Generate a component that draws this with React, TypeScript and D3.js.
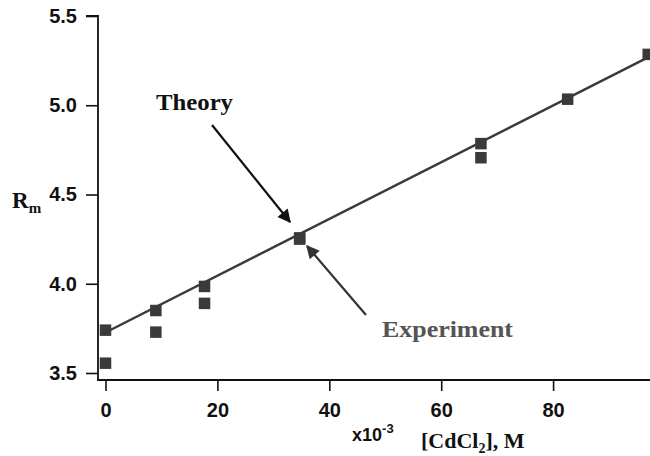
import React, { useEffect, useRef } from 'react';
import * as d3 from 'd3';

// concentration (x10^-3 M)
const theoryX = [0, 9, 17.7, 34.7, 67.1, 82.6, 97];
const theoryY = [3.74, 3.85, 3.985, 4.257, 4.785, 5.034, 5.285];
const expX = [0, 9, 17.7, 34.7, 67.1];
const expY = [3.555, 3.729, 3.89, 4.25, 4.706];
// fitted theory line end points
const fitX = [0, 97.3];
const fitY = [3.727, 5.274];
const xTicks = [0, 20, 40, 60, 80];
const yTicks = [3.5, 4.0, 4.5, 5.0, 5.5];

const W = 650;
const H = 456;

const App: React.FC = () => {
  const svgRef = useRef<SVGSVGElement>(null);

  useEffect(() => {
    if (!svgRef.current) return;
    const svg = d3.select(svgRef.current);
    svg.selectAll('*').remove();

    const x = d3.scaleLinear().domain([0, 100]).range([105.5, 665]);
    const y = d3.scaleLinear().domain([3.5, 5.5]).range([373, 16]);
    const axisX0 = 98;
    const axisY0 = 380;

    const defs = svg.append('defs');
    const mk = (id: string, color: string) =>
      defs.append('marker')
        .attr('id', id)
        .attr('viewBox', '0 0 10 10')
        .attr('refX', 9).attr('refY', 5)
        .attr('markerWidth', 7).attr('markerHeight', 6)
        .attr('markerUnits', 'strokeWidth')
        .attr('orient', 'auto')
        .append('path').attr('d', 'M0,0 L10,5 L0,10 Z').attr('fill', color);
    mk('arrT', '#111');
    mk('arrE', '#333');

    // y axis
    const gy = svg.append('g')
      .attr('transform', `translate(${axisX0},0)`)
      .call(d3.axisLeft(y).tickValues(yTicks).tickSize(12).tickPadding(9).tickFormat(d3.format('.1f')));
    gy.select('.domain').remove();
    gy.selectAll('line').attr('stroke', '#111').attr('stroke-width', 1.6);
    gy.selectAll('text')
      .attr('font-family', 'Liberation Sans, Arial, sans-serif')
      .attr('font-weight', 'bold').attr('font-size', 20).attr('fill', '#111');

    // x axis
    const gx = svg.append('g')
      .attr('transform', `translate(0,${axisY0})`)
      .call(d3.axisBottom(x).tickValues(xTicks).tickSize(11).tickPadding(12).tickFormat(d3.format('d')));
    gx.select('.domain').remove();
    gx.selectAll('line').attr('stroke', '#111').attr('stroke-width', 1.6);
    gx.selectAll('text')
      .attr('font-family', 'Liberation Sans, Arial, sans-serif')
      .attr('font-weight', 'bold').attr('font-size', 20).attr('fill', '#111');

    // axis lines
    svg.append('path')
      .attr('d', `M${axisX0 - 12},${y(5.5)} H${axisX0} V${axisY0} H${W}`)
      .attr('fill', 'none').attr('stroke', '#111').attr('stroke-width', 1.8);

    // theory line
    const line = d3.line<number>().x((_, i) => x(fitX[i])).y(d => y(d));
    svg.append('path')
      .attr('d', line(fitY))
      .attr('fill', 'none').attr('stroke', '#3a3a3a').attr('stroke-width', 2.4);

    const sq = 11.5;
    const drawSquares = (xs: number[], ys: number[]) => {
      svg.append('g').selectAll('rect')
        .data(xs)
        .join('rect')
        .attr('x', (d) => x(d) - sq / 2)
        .attr('y', (_, i) => y(ys[i]) - sq / 2)
        .attr('width', sq).attr('height', sq)
        .attr('fill', '#3a3a3a');
    };
    drawSquares(theoryX, theoryY);
    drawSquares(expX, expY);

    // annotations
    svg.append('line')
      .attr('x1', 212).attr('y1', 125).attr('x2', 290).attr('y2', 222)
      .attr('stroke', '#111').attr('stroke-width', 2.2).attr('marker-end', 'url(#arrT)');
    svg.append('line')
      .attr('x1', 366).attr('y1', 315).attr('x2', 307).attr('y2', 246)
      .attr('stroke', '#333').attr('stroke-width', 2.2).attr('marker-end', 'url(#arrE)');

    const serif = 'Liberation Serif, Times New Roman, serif';
    svg.append('text').attr('x', 156).attr('y', 110).text('Theory')
      .attr('font-family', serif).attr('font-weight', 'bold').attr('font-size', 24)
      .attr('textLength', 77).attr('lengthAdjust', 'spacingAndGlyphs').attr('fill', '#111');
    svg.append('text').attr('x', 382).attr('y', 337).text('Experiment')
      .attr('font-family', serif).attr('font-weight', 'bold').attr('font-size', 23)
      .attr('textLength', 131).attr('lengthAdjust', 'spacingAndGlyphs').attr('fill', '#555');

    // y label R_m
    const rl = svg.append('text').attr('x', 12).attr('y', 208)
      .attr('font-family', serif).attr('font-weight', 'bold').attr('font-size', 23).attr('fill', '#111');
    rl.append('tspan').text('R');
    rl.append('tspan').text('m').attr('font-size', 15).attr('dy', 5);

    // x label
    const xl = svg.append('text').attr('x', 352).attr('y', 441)
      .attr('font-family', 'Liberation Sans, Arial, sans-serif').attr('font-weight', 'bold').attr('font-size', 18).attr('fill', '#111');
    xl.append('tspan').text('x10');
    xl.append('tspan').text('-3').attr('font-size', 13).attr('dy', -8);

    const cl = svg.append('text').attr('x', 421).attr('y', 448)
      .attr('font-family', serif).attr('font-weight', 'bold').attr('font-size', 22).attr('fill', '#111');
    cl.append('tspan').text('[CdCl');
    cl.append('tspan').text('2').attr('font-size', 14).attr('dy', 5);
    cl.append('tspan').text('], M').attr('dy', -5);
  }, []);

  return (
    <svg
      ref={svgRef}
      width={W}
      height={H}
      style={{ position: 'absolute', left: 0, top: 0, background: '#fff' }}
    />
  );
};

export default App;
